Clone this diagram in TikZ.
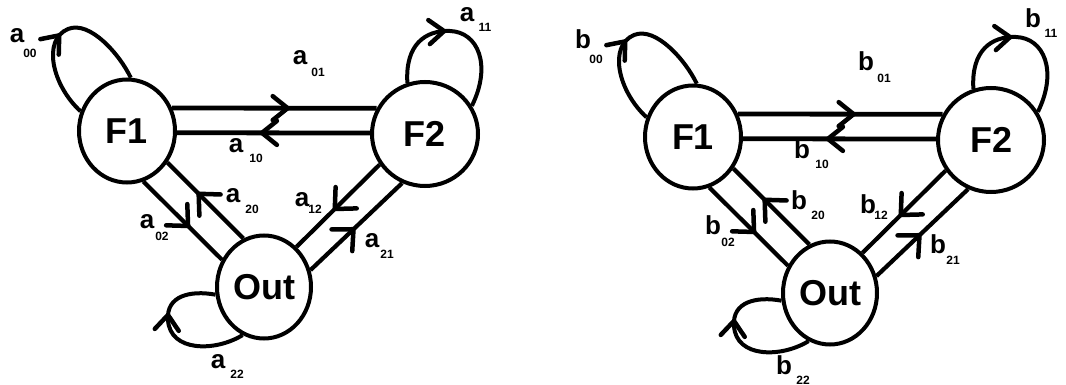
\documentclass[tikz,border=0pt]{standalone}
\usepackage{fontspec}
\setmainfont{Liberation Sans}
\usetikzlibrary{shapes.geometric,decorations.markings}
\tikzset{
  state/.style={ellipse, draw, line width=4pt, inner sep=0pt,
    font=\fontsize{36}{36}\selectfont\bfseries},
  link/.style={line width=4.8pt},
  diag/.style={line width=4.2pt},
  loopline/.style={line width=4pt},
  arr/.style={postaction={decorate, decoration={markings,
    mark=at position #1 with {\draw[line width=4.5pt, line cap=round, line join=round]
      (-15pt,12pt) -- (0pt,0pt) -- (-15pt,-12pt);}}}},
  arrd/.style={postaction={decorate, decoration={markings,
    mark=at position #1 with {\draw[line width=4.5pt, line cap=round, line join=round]
      (-16pt,15pt) -- (0pt,0pt) -- (-16pt,-15pt);}}}},
  lettr/.style={font=\fontsize{26}{26}\selectfont\bfseries, inner sep=0pt, anchor=base},
  subs/.style={font=\fontsize{12}{12}\selectfont\bfseries, inner sep=0pt, anchor=base},
}
\newcommand\glabel[4]{%
  \node[lettr] (#1) at (#2) {\curletter};
  \node[subs] (#1s) at (#3) {#4};}
\newcommand\stategraph[3]{%
\begin{scope}[shift={#1}, name prefix=#3-]
  \def\curletter{#2}
  \node[state, minimum width=96pt, minimum height=103pt] (F1) at (127,131) {F1};
  \node[state, minimum width=106pt, minimum height=104pt] (F2) at (425,134) {F2};
  \node[state, minimum width=94pt, minimum height=103pt] (Out) at (264,287) {Out};
  % F1 <-> F2
  \draw[link, arr=0.565] (F1.27) -- (F2.152);
  \draw[link, arr=0.56] (F2.179) -- (F1.-2);
  % F1 <-> Out
  \draw[diag, arrd=0.57] (F1.-72) -- (Out.147);
  \draw[diag, arrd=0.59] (Out.113) -- (F1.-38);
  % F2 <-> Out
  \draw[diag, arrd=0.54] (F2.-146) -- (Out.51);
  \draw[diag, arrd=0.47] (Out.20) -- (F2.-115);
  % self loops
  \draw[loopline, arr=0.47] (F1.157) .. controls (52,85) and (42,40) .. (68,29)
     .. controls (90,20) and (120,55) .. (F1.86);
  \draw[loopline, arr=0.42] (F2.109) .. controls (405,45) and (425,30) .. (450,31)
     .. controls (478,32) and (492,65) .. (F2.31);
  \draw[loopline, arr=0.62] (Out.-114) .. controls (215,352) and (170,352) .. (168,320)
     .. controls (166,296) and (190,290) .. (Out.-171);
  % labels
  \glabel{l00}{17,43}{30,58}{00}
  \glabel{l01}{300,65}{318,77}{01}
  \glabel{l11}{467,22}{485,32}{11}
  \glabel{l10}{236,153}{256,163}{10}
  \glabel{l20}{233,203}{252,213}{20}
  \glabel{l02}{147,228}{162,240}{02}
  \glabel{l12}{302,207}{315,213}{12}
  \glabel{l21}{372,247}{387,258}{21}
  \glabel{l22}{218,368}{237,378}{22}
\end{scope}}
\begin{document}
\begin{tikzpicture}[x=1pt, y=-1pt]
  \useasboundingbox (0,0) rectangle (1066,385);
  \stategraph{(0,0)}{a}{L}
  \stategraph{(566,6)}{b}{R}
\end{tikzpicture}
\end{document}
